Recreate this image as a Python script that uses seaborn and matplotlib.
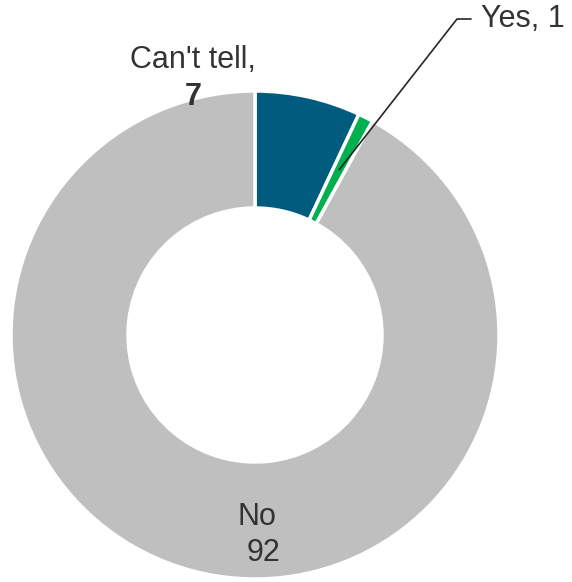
import numpy as np
import seaborn as sns
import matplotlib.pyplot as plt

sns.set_theme(style="white")
plt.rcParams['font.family'] = ['Liberation Sans', 'DejaVu Sans']

# data
labels = ["Can't tell", "Yes", "No"]
values = [7, 1, 92]
colors = ["#005B7F", "#00B050", "#BFBFBF"]

W, H = 572, 582
cx, cy = 255, H - 335
r_out, r_in = 244, 127

fig = plt.figure(figsize=(W / 100, H / 100), dpi=100)
ax = fig.add_axes([0, 0, 1, 1])
ax.set_xlim(0, W)
ax.set_ylim(0, H)
ax.set_aspect("equal")
ax.axis("off")

wedges, _ = ax.pie(values, colors=colors, startangle=90, counterclock=False,
                   center=(cx, cy), radius=r_out, frame=True,
                   wedgeprops=dict(width=r_out - r_in, edgecolor="white", linewidth=2.5))
ax.set_xlim(0, W)
ax.set_ylim(0, H)
ax.axis("off")

txt = "#333333"
ax.text(193, H - 60, "Can't tell,", ha="center", va="center", fontsize=22, color=txt)
ax.text(193, H - 97, str(values[0]), ha="center", va="center", fontsize=22,
        fontweight="bold", color=txt)
ax.text(257, H - 517, labels[2], ha="center", va="center", fontsize=22, color=txt)
ax.text(263, H - 553, str(values[2]), ha="center", va="center", fontsize=22, color=txt)

# leader line to the "Yes" slice
w = wedges[1]
mid = np.deg2rad((w.theta1 + w.theta2) / 2)
rm = (r_out + r_in) / 2
px, py = cx + rm * np.cos(mid), cy + rm * np.sin(mid)
ly = H - 19
ax.plot([px, 457, 471], [py, ly, ly], color="#262626", lw=1.2)
ax.text(481, ly, f"{labels[1]}, {values[1]}", ha="left", va="center", fontsize=22, color=txt)

fig.savefig("out.png", dpi=100)
